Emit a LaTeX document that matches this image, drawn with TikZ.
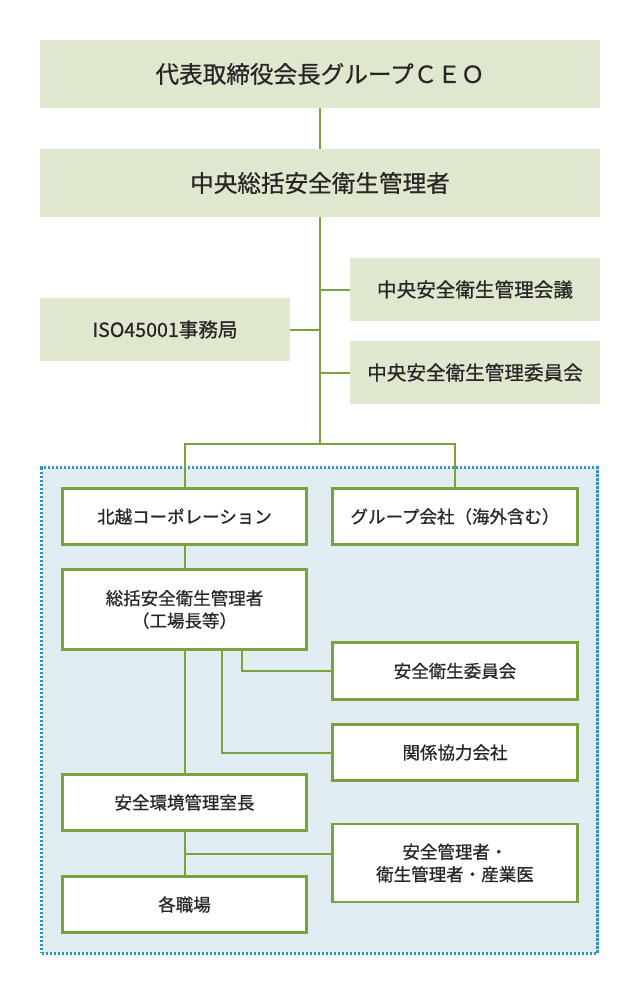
\documentclass[tikz,border=0pt]{standalone}
\usepackage{fontspec}
\setmainfont{Noto Sans CJK JP}[FakeBold=0.7]
\usetikzlibrary{positioning,calc,fit,backgrounds}

\definecolor{leaf}{HTML}{7BA33D}
\definecolor{pale}{HTML}{DFE8CE}
\definecolor{mist}{HTML}{E1EDF3}
\definecolor{sky}{HTML}{2A93C9}
\definecolor{ink}{HTML}{262626}

\begin{document}
\begin{tikzpicture}[
  x=1pt,y=-1pt,
  box/.style={inner sep=0pt,align=center,text=ink},
  topbox/.style={box,fill=pale,minimum width=560pt,minimum height=68pt,font=\fontsize{23.6}{28}\selectfont},
  gbox/.style={box,fill=pale,minimum width=250pt,minimum height=63pt,font=\fontsize{19.6}{24}\selectfont},
  wbox/.style={box,fill=white,draw=leaf,line width=2.6pt,minimum width=244.5pt,minimum height=56.5pt,font=\fontsize{17.5}{22.5}\selectfont},
  link/.style={draw=leaf,line width=2pt}
]
\useasboundingbox (0,0) rectangle (640,996);
\node[topbox] (ceo) at (320,74) {代表取締役会長グループＣＥＯ};
\node[topbox] (chief) at (320,183) {中央総括安全衛生管理者};
\node[gbox] (meeting) at (475,289.5) {中央安全衛生管理会議};
\node[gbox] (iso) at (165,329.5) {ISO45001事務局};
\node[gbox] (cttee) at (475,372.5) {中央安全衛生管理委員会};
\coordinate (split) at (320,444);
\node[wbox] (hokuetsu) at (184.5,516.5) {北越コーポレーション};
\node[wbox] (group) at (455,516.5) {グループ会社（海外含む）};
\node[wbox,minimum height=80pt] (general) at (184.5,609.5) {総括安全衛生管理者\\（工場長等）};
\node[wbox] (safety) at (455,671) {安全衛生委員会};
\node[wbox] (partners) at (455,752.5) {関係協力会社};
\node[wbox] (envchief) at (184.5,802.5) {安全環境管理室長};
\node[wbox,minimum height=78pt] (staff) at (455,863) {安全管理者・\\衛生管理者・産業医};
\node[wbox] (workplace) at (184.5,904.5) {各職場};
\coordinate (mid) at ($(envchief.south)!0.5!(workplace.north)$);
\draw[link] (ceo) -- (chief);
\draw[link] (chief.south) -- (split);
\draw[link] (meeting.west) -- (meeting.west -| chief.south);
\draw[link] (iso.east) -- (iso.east -| chief.south);
\draw[link] (cttee.west) -- (cttee.west -| chief.south);
\draw[link] (hokuetsu.north) |- (split) -| (group.north);
\draw[link] (hokuetsu) -- (general);
\draw[link] (general) -- (envchief);
\draw[link] ([xshift=57.5pt]general.south) |- (safety.west);
\draw[link] ([xshift=37.5pt]general.south) |- (partners.west);
\draw[link] (envchief) -- (workplace);
\draw[link] (mid) -- (mid -| staff.west);
\begin{scope}[on background layer]
\node[fill=mist,draw=sky,line width=3pt,dash pattern=on 2.4pt off 1.6pt,inner sep=19pt,
  fit=(hokuetsu)(group)(workplace)] (plant) {};
\end{scope}
\end{tikzpicture}
\end{document}
